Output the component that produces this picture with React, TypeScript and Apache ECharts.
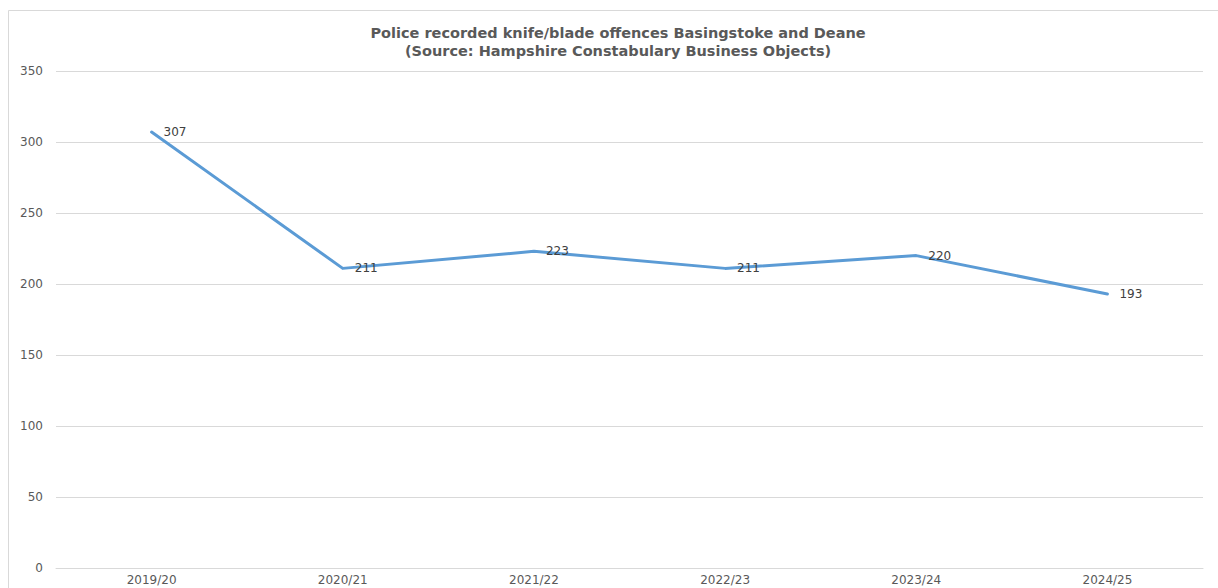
import React, { useEffect, useRef } from "react";
import * as echarts from "echarts";

const categories = ["2019/20", "2020/21", "2021/22", "2022/23", "2023/24", "2024/25"];
const offences = [307, 211, 223, 211, 220, 193];
const titleLines = [
  "Police recorded knife/blade offences Basingstoke and Deane",
  "(Source: Hampshire Constabulary Business Objects)",
];

export default function App() {
  const ref = useRef<HTMLDivElement>(null);
  useEffect(() => {
    if (!ref.current) return;
    const chart = echarts.init(ref.current, null, { renderer: "svg" });
    const font = "DejaVu Sans";
    chart.setOption({
      animation: false,
      backgroundColor: "#ffffff",
      textStyle: { fontFamily: font },
      title: {
        text: titleLines.join("\n"),
        left: 613,
        textAlign: "center",
        top: 19,
        textStyle: {
          fontFamily: font,
          fontSize: 14.5,
          fontWeight: "bold",
          color: "#595959",
          lineHeight: 18,
        },
      },
      graphic: [
        {
          type: "rect",
          shape: { x: 8.5, y: 10.5, width: 1400, height: 800 },
          style: { fill: "none", stroke: "#d9d9d9", lineWidth: 1 },
          silent: true,
        },
      ],
      grid: { left: 56, right: 15, top: 71, bottom: 20, containLabel: false },
      xAxis: {
        type: "category",
        data: categories,
        boundaryGap: true,
        axisLine: { show: true, lineStyle: { color: "#d9d9d9", width: 1 } },
        axisTick: { show: false },
        axisLabel: { color: "#595959", fontSize: 12, fontFamily: font, margin: 6 },
        splitLine: { show: false },
      },
      yAxis: {
        type: "value",
        min: 0,
        max: 350,
        interval: 50,
        axisLine: { show: false },
        axisTick: { show: false },
        axisLabel: { color: "#595959", fontSize: 12, fontFamily: font, margin: 13 },
        splitLine: { show: true, lineStyle: { color: "#d9d9d9", width: 1 } },
      },
      series: [
        {
          type: "line",
          data: offences,
          symbol: "circle",
          symbolSize: 4,
          showSymbol: true,
          lineStyle: { color: "#5b9bd5", width: 3, cap: "round", join: "round" },
          itemStyle: { color: "rgba(0,0,0,0)", borderWidth: 0 },
          label: {
            show: true,
            position: "right",
            distance: 10,
            color: "#404040",
            fontSize: 12,
            fontFamily: font,
          },
        },
      ],
    });
    return () => chart.dispose();
  }, []);
  return (
    <div
      ref={ref}
      style={{ position: "fixed", left: 0, top: 0, width: 1218, height: 588, background: "#fff" }}
    />
  );
}
